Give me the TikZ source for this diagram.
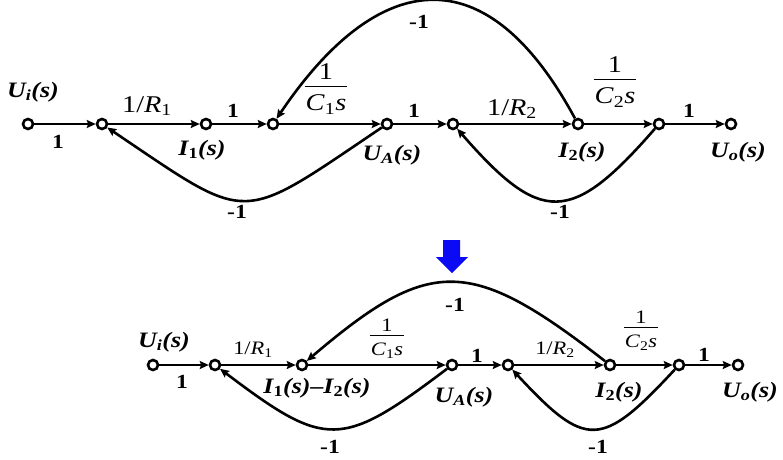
\documentclass[tikz,border=0pt]{standalone}
\usepackage{fontspec}
\setmainfont{Liberation Serif}[FakeStretch=1.18]
\usetikzlibrary{arrows.meta, positioning}
\definecolor{cblue}{HTML}{0A0AF5}
\newcommand{\gfrac}[2]{{\setlength{\arrayrulewidth}{1pt}\setlength{\tabcolsep}{1pt}\begin{tabular}{c}#1\\[-2pt]\hline\rule{0pt}{1em}#2\end{tabular}}}
\tikzset{
  every picture/.style={line width=2.6pt},
  sgnode/.style={circle, draw, line width=2.6pt, fill=white, minimum size=10pt, inner sep=0pt},
  arrow/.style={-{Stealth[length=9pt, width=8pt, inset=1.5pt]}, line width=2.6pt},
  sig/.style={font=\fontsize{22}{24}\selectfont\bfseries\itshape, inner sep=0pt},
  gain/.style={font=\fontsize{20}{24}\selectfont\bfseries, inner sep=0pt},
  tf/.style={font=\fontsize{24}{26}\selectfont, inner sep=0pt},
  tfs/.style={font=\fontsize{19}{21}\selectfont, inner sep=0pt},
}

\begin{document}
\begin{tikzpicture}[x=1pt, y=-1pt]
  \useasboundingbox (0,0) rectangle (783,459);
  % original graph
  \foreach \n/\x in {ui/28, e1/102, i1/206, e2/273, ua/387, e3/453, i2/578, e4/659, uo/731}
    \node[sgnode] (\n) at (\x,124) {};
  \foreach \a/\b in {ui/e1, e1/i1, i1/e2, e2/ua, ua/e3, e3/i2, i2/e4, e4/uo}
    \draw[arrow] (\a) -- (\b);
  \draw[arrow] (i2) .. controls (480,-57) and (370,-20) .. (e2);
  \draw[arrow] (ua) .. controls (237,225) and (252,225) .. (e1);
  \draw[arrow] (e4) .. controls (571,225) and (541,225) .. (e3);
  \node[sig] (lui) at (33,92) {U\textsubscript{i}(s)};
  \node[sig] (li1) at (202,150) {I\textsubscript{\upshape 1}(s)};
  \node[sig] (lua) at (392,155) {U\textsubscript{A}(s)};
  \node[sig] (li2) at (582,152) {I\textsubscript{\upshape 2}(s)};
  \node[sig] (luo) at (738,152) {U\textsubscript{o}(s)};
  \node[gain] (g1) at (58,142) {1};
  \node[gain] (g2) at (233,111) {1};
  \node[gain] (g3) at (414,111) {1};
  \node[gain] (g4) at (689,111) {1};
  \node[gain] (g5) at (419,22) {-1};
  \node[gain] (g6) at (237,212) {-1};
  \node[gain] (g7) at (560,212) {-1};
  \node[tf] (r1) at (147,106) {1/\textit{R}\textsubscript{1}};
  \node[tf] (r2) at (512,109) {1/\textit{R}\textsubscript{2}};
  \node[tf] (c1) at (326,90) {\gfrac{1}{\textit{C}\textsubscript{1}\textit{s}}};
  \node[tf] (c2) at (615,83) {\gfrac{1}{\textit{C}\textsubscript{2}\textit{s}}};
  % blue arrow
  \fill[cblue] (443,240) -- (460,240) -- (460,257) -- (468,257) -- (452,273) -- (436,257) -- (443,257) -- cycle;
  % reduced graph
  \foreach \n/\x in {bui/153, be1/215, bi1/302, bua/452, be3/508, bi2/610, be4/679, buo/738}
    \node[sgnode] (\n) at (\x,365) {};
  \foreach \a/\b in {bui/be1, be1/bi1, bi1/bua, bua/be3, be3/bi2, bi2/be4, be4/buo}
    \draw[arrow] (\a) -- (\b);
  \draw[arrow] (bi2) .. controls (470,256) and (430,256) .. (bi1);
  \draw[arrow] (bua) .. controls (341,449) and (326,449) .. (be1);
  \draw[arrow] (be4) .. controls (601,449) and (586,449) .. (be3);
  \node[sig] (blui) at (164,342) {U\textsubscript{i}(s)};
  \node[sig] (bli1) at (317,388) {I\textsubscript{\upshape 1}(s)--I\textsubscript{\upshape 2}(s)};
  \node[sig] (blua) at (464,397) {U\textsubscript{A}(s)};
  \node[sig] (bli2) at (619,392) {I\textsubscript{\upshape 2}(s)};
  \node[sig] (bluo) at (750,392) {U\textsubscript{o}(s)};
  \node[gain] (bg1) at (182,382) {1};
  \node[gain] (bg2) at (477,356) {1};
  \node[gain] (bg3) at (704,355) {1};
  \node[gain] (bg4) at (455,305) {-1};
  \node[gain] (bg5) at (330,447) {-1};
  \node[gain] (bg6) at (598,447) {-1};
  \node[tfs] (br1) at (253,350) {1/\textit{R}\textsubscript{1}};
  \node[tfs] (br2) at (555,350) {1/\textit{R}\textsubscript{2}};
  \node[tfs] (bc1) at (387,339) {\gfrac{1}{\textit{C}\textsubscript{1}\textit{s}}};
  \node[tfs] (bc2) at (641,331) {\gfrac{1}{\textit{C}\textsubscript{2}\textit{s}}};
\end{tikzpicture}
\end{document}
